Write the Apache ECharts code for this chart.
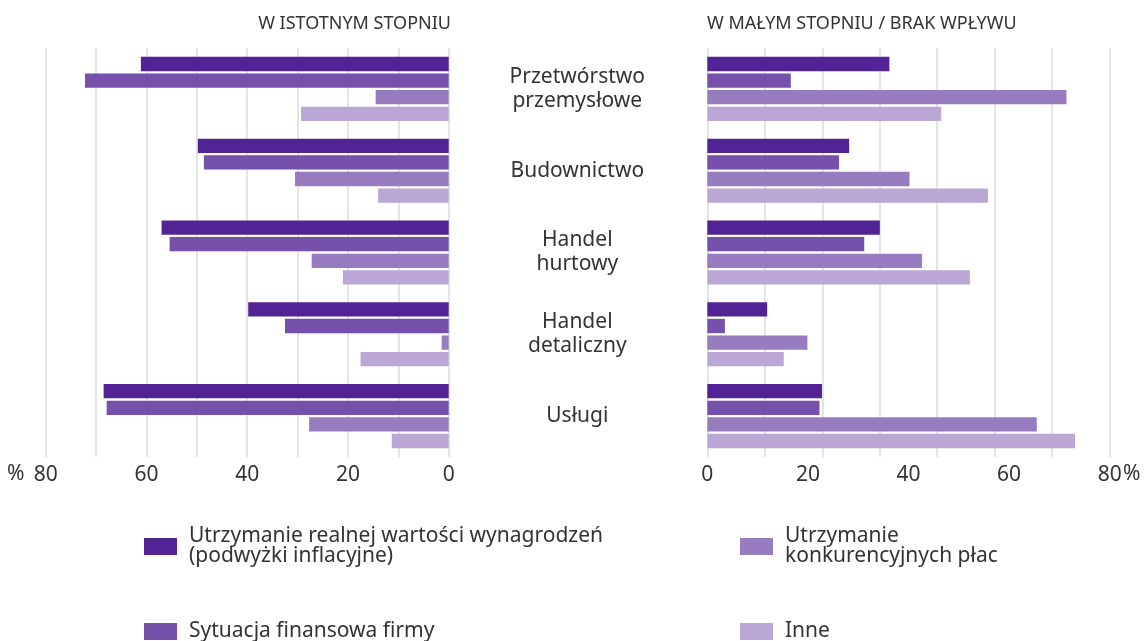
<!DOCTYPE html>
<html>
<head>
<meta charset="utf-8">
<script src="https://cdn.jsdelivr.net/npm/echarts@6/dist/echarts.min.js"></script>
<style>
  html, body { margin: 0; padding: 0; background: #fff; }
  #main { width: 1144px; height: 641px; }
</style>
</head>
<body>
<div id="main"></div>
<script>
// branże
var categories = ["Przetwórstwo\nprzemysłowe", "Budownictwo", "Handel\nhurtowy", "Handel\ndetaliczny", "Usługi"];
var seriesNames = [
  "Utrzymanie realnej wartości wynagrodzeń\n(podwyżki inflacyjne)",
  "Sytuacja finansowa firmy",
  "Utrzymanie\nkonkurencyjnych płac",
  "Inne"
];
var colors = ["#522394", "#7651ab", "#977cbf", "#baa7d6"];

// w istotnym stopniu (%)
var leftRealna = [61.1, 49.8, 57.0, 39.8, 68.5];
var leftFinanse = [72.2, 48.6, 55.4, 32.5, 67.9];
var leftKonkur = [14.5, 30.5, 27.2, 1.4, 27.7];
var leftInne = [29.3, 14.0, 21.0, 17.5, 11.3];

// w małym stopniu / brak wpływu (%)
var rightRealna = [36.2, 28.2, 34.3, 11.9, 22.8];
var rightFinanse = [16.6, 26.2, 31.2, 3.5, 22.3];
var rightKonkur = [71.4, 40.2, 42.7, 19.9, 65.5];
var rightInne = [46.5, 55.8, 52.2, 15.2, 73.1];

var leftData = [leftRealna, leftFinanse, leftKonkur, leftInne];
var rightData = [rightRealna, rightFinanse, rightKonkur, rightInne];

var font = "Noto Sans";
var txt = "#333";

var series = [];
leftData.forEach(function (d, i) {
  series.push({
    name: seriesNames[i], type: "bar", xAxisIndex: 0, yAxisIndex: 0,
    data: d, barWidth: 14.3, barGap: "16%",
    itemStyle: { color: colors[i] }
  });
});
rightData.forEach(function (d, i) {
  series.push({
    name: seriesNames[i], type: "bar", xAxisIndex: 1, yAxisIndex: 1,
    data: d, barWidth: 14.3, barGap: "16%",
    itemStyle: { color: colors[i] }
  });
});

function legendAt(i, left, top) {
  return {
    data: [seriesNames[i]], left: left, top: top, padding: 0,
    icon: "rect", itemWidth: 33, itemHeight: 17, selectedMode: false,
    textStyle: { fontFamily: font, fontSize: 21, lineHeight: 20, color: txt, padding: [0, 0, 0, 7] }
  };
}

var chart = echarts.init(document.getElementById("main"));
chart.setOption({
  animation: false,
  title: [
    { text: "W ISTOTNYM STOPNIU", left: 446, top: 10, textAlign: "right",
      textStyle: { fontFamily: font, fontSize: 18, fontWeight: "normal", color: txt } },
    { text: "W MAŁYM STOPNIU / BRAK WPŁYWU", left: 702, top: 10,
      textStyle: { fontFamily: font, fontSize: 18, fontWeight: "normal", color: txt } }
  ],
  legend: [
    legendAt(0, 144, 526),
    legendAt(1, 144, 621),
    legendAt(2, 740, 526),
    legendAt(3, 740, 621)
  ],
  grid: [
    { left: 45.7, right: 695.3, top: 48, height: 409 },
    { left: 707.3, right: 34.3, top: 48, height: 409 }
  ],
  xAxis: [
    { gridIndex: 0, type: "value", min: 0, max: 80, interval: 10, inverse: true,
      axisLine: { show: false }, axisTick: { show: false },
      splitLine: { lineStyle: { color: "#dcdcdc", width: 1.5 } },
      axisLabel: { fontFamily: font, fontSize: 21, color: txt, margin: 8,
        formatter: function (v) { return v % 20 === 0 ? String(v) : ""; } } },
    { gridIndex: 1, type: "value", min: 0, max: 80, interval: 20,
      axisLine: { show: false }, axisTick: { show: false }, splitLine: { show: false },
      axisLabel: { fontFamily: font, fontSize: 21, color: txt, margin: 8 } },
    { gridIndex: 1, type: "value", min: 0, max: 7, interval: 1,
      axisLine: { show: false }, axisTick: { show: false }, axisLabel: { show: false },
      splitLine: { lineStyle: { color: "#dcdcdc", width: 1.5 } } }
  ],
  yAxis: [
    { gridIndex: 0, type: "category", data: categories, inverse: true,
      axisLine: { show: false }, axisTick: { show: false }, axisLabel: { show: false } },
    { gridIndex: 1, type: "category", data: categories, inverse: true,
      axisLine: { show: false }, axisTick: { show: false },
      axisLabel: { fontFamily: font, fontSize: 21, lineHeight: 24, color: txt, align: "center", margin: 130 } }
  ],
  graphic: [
    { type: "text", left: 7, top: 464, style: { text: "%", fontFamily: font, fontSize: 21, fill: txt } },
    { type: "text", left: 1123, top: 464, style: { text: "%", fontFamily: font, fontSize: 21, fill: txt } }
  ],
  series: series
});
</script>
</body>
</html>
